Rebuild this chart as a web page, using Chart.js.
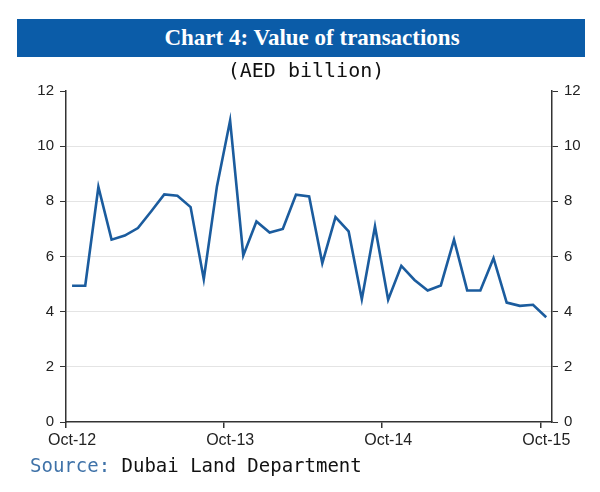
<!DOCTYPE html>
<html>
<head>
<meta charset="utf-8">
<script src="https://cdn.jsdelivr.net/npm/chart.js@4"></script>
<style>
  body { margin: 0; background: #fff; }
  #wrap { position: relative; width: 600px; height: 492px; }
  #bar {
    position: absolute; left: 17px; top: 19px; width: 568px; height: 38px;
    background: #0b5ca8; color: #fff;
    font: bold 23px "Liberation Serif", serif;
    text-align: center; line-height: 38px; padding-left: 22px; box-sizing: border-box;
  }
  #unit {
    position: absolute; left: 0; width: 612px; top: 58px;
    text-align: center; font: 20px "DejaVu Sans Mono", monospace; color: #111;
  }
  #src {
    position: absolute; left: 30px; top: 454px;
    font: 19px "DejaVu Sans Mono", monospace; color: #111;
  }
  #src span { color: #3f72a8; }
  canvas { position: absolute; left: 0; top: 0; }
</style>
</head>
<body>
<div id="wrap">
  <canvas id="chartValor" width="600" height="492"></canvas>
  <div id="bar">Chart 4: Value of transactions</div>
  <div id="unit">(AED billion)</div>
  <div id="src"><span>Source:</span> Dubai Land Department</div>
</div>
<script>
// Meses de Oct-12 a Oct-15 (37 pontos)
const meses = ['Oct-12','Nov-12','Dec-12','Jan-13','Feb-13','Mar-13','Apr-13','May-13','Jun-13','Jul-13','Aug-13','Sep-13',
  'Oct-13','Nov-13','Dec-13','Jan-14','Feb-14','Mar-14','Apr-14','May-14','Jun-14','Jul-14','Aug-14','Sep-14',
  'Oct-14','Nov-14','Dec-14','Jan-15','Feb-15','Mar-15','Apr-15','May-15','Jun-15','Jul-15','Aug-15','Sep-15','Oct-15'];
const valores = [4.94, 4.94, 8.52, 6.61, 6.76, 7.03, 7.63, 8.25, 8.20, 7.79, 5.18, 8.54,
  10.93, 6.04, 7.27, 6.87, 7.00, 8.24, 8.18, 5.76, 7.43, 6.91, 4.45, 7.09,
  4.43, 5.66, 5.15, 4.77, 4.95, 6.61, 4.77, 4.77, 5.94, 4.33, 4.21, 4.25, 3.80];
const ticksX = [0, 12, 24, 36]; // índices dos meses com rótulo (Oct)
const ticksY = [0, 2, 4, 6, 8, 10, 12];
const deslocTick = -0.45; // marcas no início do mês

const fonteX = { family: 'Liberation Sans, Arial, sans-serif', size: 16 };
const fonteY = { family: 'Liberation Sans, Arial, sans-serif', size: 15 };
const corGrade = (c) => (c.tick.value === 0 || c.tick.value === 12) ? 'rgba(0,0,0,0)' : '#e4e4e4';

const ctx = document.getElementById('chartValor').getContext('2d');
const chartValor = new Chart(ctx, {
  type: 'line',
  data: {
    datasets: [{
      label: 'Value of transactions',
      data: valores.map((v, i) => ({ x: i, y: v })),
      borderColor: '#1b5c9e',
      borderWidth: 2.6,
      pointRadius: 0,
      tension: 0,
      fill: false
    }]
  },
  options: {
    responsive: false,
    animation: false,
    layout: { padding: { top: 91, left: 0, right: 0, bottom: 0 } },
    plugins: { legend: { display: false }, tooltip: { enabled: false } },
    scales: {
      x: {
        type: 'linear',
        min: -0.46,
        max: 36.44,
        afterBuildTicks: (s) => { s.ticks = ticksX.map(v => ({ value: v + deslocTick })); },
        afterFit: (s) => { s.height = 70; },
        ticks: {
          autoSkip: false, maxRotation: 0, color: '#222', font: fonteX, padding: 3, labelOffset: 6,
          callback: (v) => meses[Math.round(v - deslocTick)]
        },
        grid: { drawOnChartArea: false, tickLength: 6, tickColor: '#333', lineWidth: 1.5 },
        border: { color: '#333', width: 1.5 }
      },
      y: {
        position: 'left',
        min: 0, max: 12,
        afterBuildTicks: (s) => { s.ticks = ticksY.map(v => ({ value: v })); },
        afterFit: (s) => { s.width = 66; },
        ticks: { color: '#222', font: fonteY, padding: 6 },
        grid: { color: corGrade, tickColor: '#333', tickLength: 6, lineWidth: 1 },
        border: { color: '#333', width: 1.5 }
      },
      y2: {
        position: 'right',
        min: 0, max: 12,
        afterBuildTicks: (s) => { s.ticks = ticksY.map(v => ({ value: v })); },
        afterFit: (s) => { s.width = 48; },
        ticks: { color: '#222', font: fonteY, padding: 6 },
        grid: { drawOnChartArea: false, tickColor: '#333', tickLength: 6 },
        border: { color: '#333', width: 1.5 }
      }
    }
  }
});
</script>
</body>
</html>
